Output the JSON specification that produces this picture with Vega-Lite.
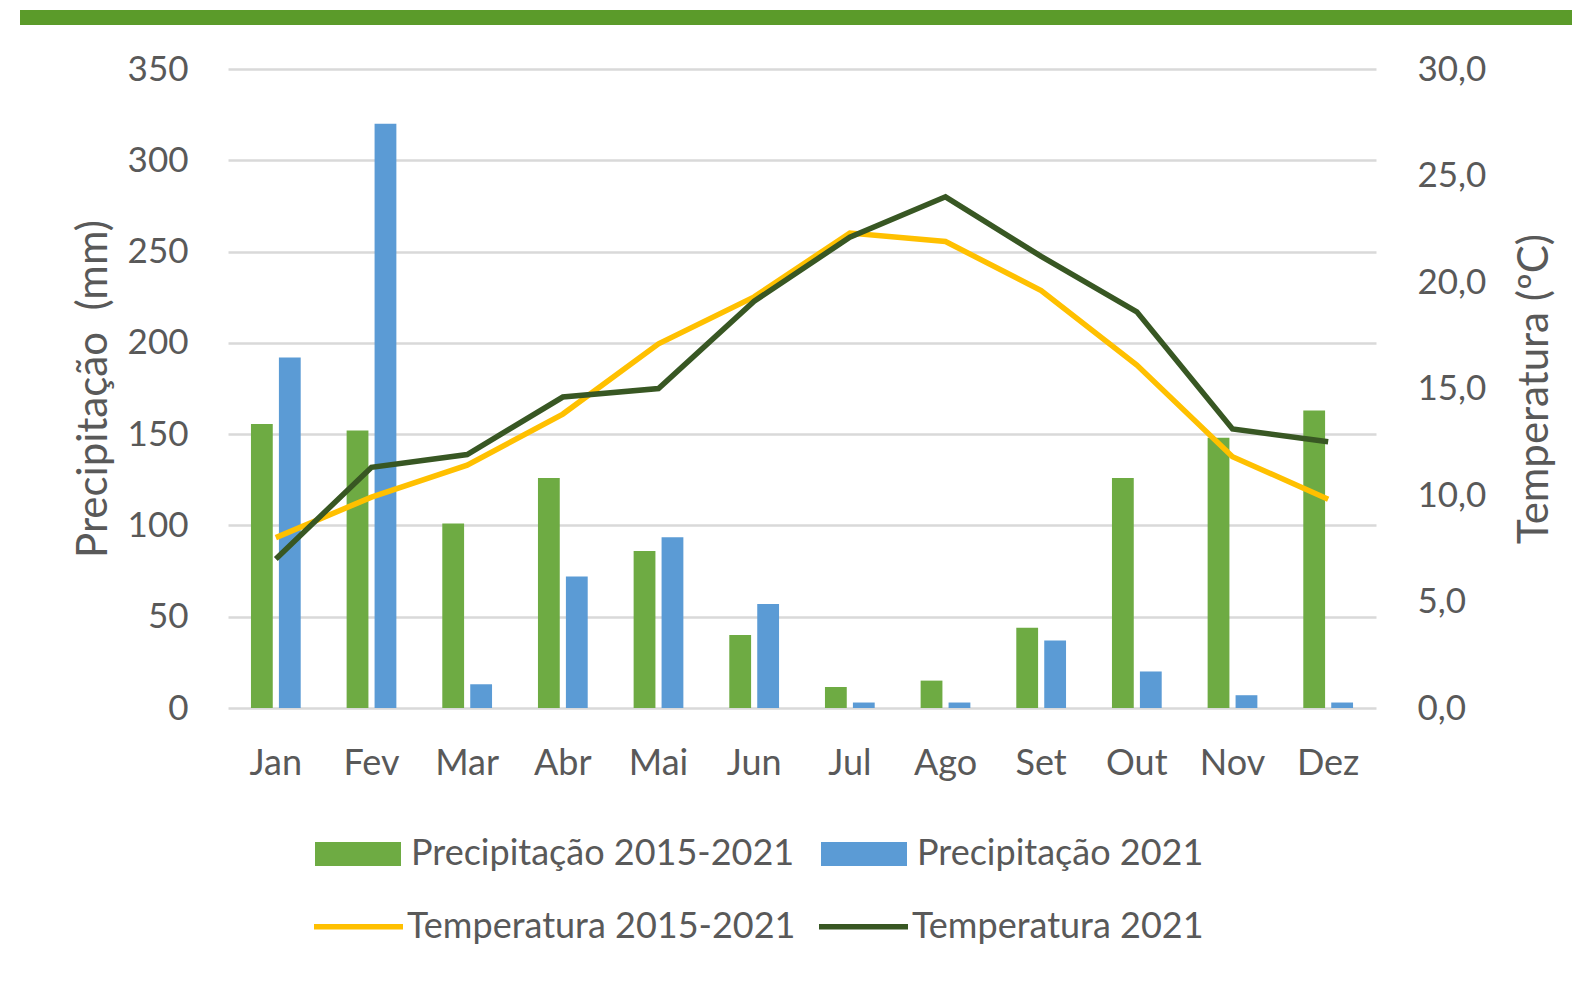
{
  "$schema": "https://vega.github.io/schema/vega-lite/v6.json",
  "padding": {"left": 20, "top": 10, "right": 0, "bottom": 0},
  "background": "white",
  "datasets": {
    "precip": [
      {"mes": "Jan", "serie": "Precipitação 2015-2021", "valor": 155.5},
      {"mes": "Fev", "serie": "Precipitação 2015-2021", "valor": 152},
      {"mes": "Mar", "serie": "Precipitação 2015-2021", "valor": 101},
      {"mes": "Abr", "serie": "Precipitação 2015-2021", "valor": 126},
      {"mes": "Mai", "serie": "Precipitação 2015-2021", "valor": 86},
      {"mes": "Jun", "serie": "Precipitação 2015-2021", "valor": 40},
      {"mes": "Jul", "serie": "Precipitação 2015-2021", "valor": 11.5},
      {"mes": "Ago", "serie": "Precipitação 2015-2021", "valor": 15},
      {"mes": "Set", "serie": "Precipitação 2015-2021", "valor": 44},
      {"mes": "Out", "serie": "Precipitação 2015-2021", "valor": 126},
      {"mes": "Nov", "serie": "Precipitação 2015-2021", "valor": 148},
      {"mes": "Dez", "serie": "Precipitação 2015-2021", "valor": 163},
      {"mes": "Jan", "serie": "Precipitação 2021", "valor": 192},
      {"mes": "Fev", "serie": "Precipitação 2021", "valor": 320},
      {"mes": "Mar", "serie": "Precipitação 2021", "valor": 13},
      {"mes": "Abr", "serie": "Precipitação 2021", "valor": 72},
      {"mes": "Mai", "serie": "Precipitação 2021", "valor": 93.5},
      {"mes": "Jun", "serie": "Precipitação 2021", "valor": 57},
      {"mes": "Jul", "serie": "Precipitação 2021", "valor": 3},
      {"mes": "Ago", "serie": "Precipitação 2021", "valor": 3},
      {"mes": "Set", "serie": "Precipitação 2021", "valor": 37},
      {"mes": "Out", "serie": "Precipitação 2021", "valor": 20},
      {"mes": "Nov", "serie": "Precipitação 2021", "valor": 7},
      {"mes": "Dez", "serie": "Precipitação 2021", "valor": 3}
    ],
    "temp": [
      {"mes": "Jan", "serie": "Temperatura 2015-2021", "temp": 8.0},
      {"mes": "Fev", "serie": "Temperatura 2015-2021", "temp": 9.9},
      {"mes": "Mar", "serie": "Temperatura 2015-2021", "temp": 11.4},
      {"mes": "Abr", "serie": "Temperatura 2015-2021", "temp": 13.8},
      {"mes": "Mai", "serie": "Temperatura 2015-2021", "temp": 17.1},
      {"mes": "Jun", "serie": "Temperatura 2015-2021", "temp": 19.3},
      {"mes": "Jul", "serie": "Temperatura 2015-2021", "temp": 22.3},
      {"mes": "Ago", "serie": "Temperatura 2015-2021", "temp": 21.9},
      {"mes": "Set", "serie": "Temperatura 2015-2021", "temp": 19.6},
      {"mes": "Out", "serie": "Temperatura 2015-2021", "temp": 16.1},
      {"mes": "Nov", "serie": "Temperatura 2015-2021", "temp": 11.8},
      {"mes": "Dez", "serie": "Temperatura 2015-2021", "temp": 9.8},
      {"mes": "Jan", "serie": "Temperatura 2021", "temp": 7.0},
      {"mes": "Fev", "serie": "Temperatura 2021", "temp": 11.3},
      {"mes": "Mar", "serie": "Temperatura 2021", "temp": 11.9},
      {"mes": "Abr", "serie": "Temperatura 2021", "temp": 14.6},
      {"mes": "Mai", "serie": "Temperatura 2021", "temp": 15.0},
      {"mes": "Jun", "serie": "Temperatura 2021", "temp": 19.1},
      {"mes": "Jul", "serie": "Temperatura 2021", "temp": 22.1},
      {"mes": "Ago", "serie": "Temperatura 2021", "temp": 24.0},
      {"mes": "Set", "serie": "Temperatura 2021", "temp": 21.2},
      {"mes": "Out", "serie": "Temperatura 2021", "temp": 18.6},
      {"mes": "Nov", "serie": "Temperatura 2021", "temp": 13.1},
      {"mes": "Dez", "serie": "Temperatura 2021", "temp": 12.5}
    ]
  },
  "config": {
    "font": "Lato",
    "view": {"stroke": null},
    "axis": {
      "labelColor": "#595959",
      "titleColor": "#595959",
      "labelFont": "Lato",
      "titleFont": "Lato",
      "titleFontWeight": "normal"
    },
    "legend": {"labelFont": "Lato", "labelColor": "#595959", "padding": 0}
  },
  "center": true,
  "spacing": 27,
  "vconcat": [
    {
      "data": {"values": [{"a": 1}]},
      "width": 1743,
      "height": 15,
      "view": {"fill": "#5b9b2a", "stroke": null},
      "mark": {"type": "rect", "fill": "#5b9b2a"},
      "encoding": {}
    },
    {
      "width": 1148,
      "height": 639,
      "layer": [
        {
          "data": {"name": "precip"},
          "mark": {"type": "bar"},
          "encoding": {
            "x": {
              "field": "mes",
              "type": "nominal",
              "sort": ["Jan", "Fev", "Mar", "Abr", "Mai", "Jun", "Jul", "Ago", "Set", "Out", "Nov", "Dez"],
              "scale": {"paddingInner": 0.48, "paddingOuter": 0.24},
              "axis": {
                "title": null,
                "labelAngle": 0,
                "labelFontSize": 36,
                "labelPadding": 38,
                "ticks": false,
                "tickSize": 0,
                "domain": false,
                "grid": false
              }
            },
            "xOffset": {
              "field": "serie",
              "type": "nominal",
              "sort": ["Precipitação 2015-2021", "Precipitação 2021"],
              "scale": {"paddingInner": 0.22}
            },
            "y": {
              "field": "valor",
              "type": "quantitative",
              "scale": {"domain": [0, 350]},
              "axis": {
                "title": "Precipitação\u00a0 (mm)",
                "values": [0, 50, 100, 150, 200, 250, 300, 350],
                "labelFontSize": 35,
                "labelPadding": 40,
                "ticks": false,
                "tickSize": 0,
                "domain": false,
                "grid": true,
                "gridColor": "#d9d9d9",
                "gridWidth": 2.5,
                "titleFontSize": 42,
                "titleAngle": 270,
                "titleX": -122,
                "titleY": 319.5,
                "titleBaseline": "alphabetic"
              }
            },
            "fill": {
              "field": "serie",
              "type": "nominal",
              "scale": {
                "domain": ["Precipitação 2015-2021", "Precipitação 2021"],
                "range": ["#6eab43", "#5b9bd5"]
              },
              "legend": {
                "title": null,
                "orient": "none",
                "legendX": 295,
                "legendY": 801,
                "direction": "horizontal",
                "symbolType": "M-1,-0.28H1V0.28H-1Z",
                "symbolSize": 7396,
                "symbolStrokeWidth": 0,
                "symbolOpacity": 1,
                "labelFontSize": 36,
                "labelOffset": 10,
                "columnPadding": 26,
                "labelLimit": 0
              }
            }
          }
        },
        {
          "data": {"name": "temp"},
          "mark": {"type": "line", "strokeWidth": 5.5},
          "encoding": {
            "x": {
              "field": "mes",
              "type": "nominal",
              "sort": ["Jan", "Fev", "Mar", "Abr", "Mai", "Jun", "Jul", "Ago", "Set", "Out", "Nov", "Dez"]
            },
            "y": {
              "field": "temp",
              "type": "quantitative",
              "scale": {"domain": [0, 30]},
              "axis": {
                "orient": "right",
                "title": "Temperatura (ºC)",
                "values": [0, 5, 10, 15, 20, 25, 30],
                "labelExpr": "replace(format(datum.value, '.1f'), '.', ',')",
                "labelFontSize": 35,
                "labelPadding": 41,
                "ticks": false,
                "tickSize": 0,
                "domain": false,
                "grid": false,
                "titleFontSize": 42,
                "titleAngle": 270,
                "titleX": 171,
                "titleY": 319.5,
                "titleBaseline": "alphabetic"
              }
            },
            "stroke": {
              "field": "serie",
              "type": "nominal",
              "scale": {
                "domain": ["Temperatura 2015-2021", "Temperatura 2021"],
                "range": ["#ffc000", "#385723"]
              },
              "legend": {
                "title": null,
                "orient": "none",
                "legendX": 291,
                "legendY": 869,
                "direction": "horizontal",
                "symbolType": "stroke",
                "symbolSize": 7921,
                "symbolStrokeWidth": 5.5,
                "labelFontSize": 36,
                "labelOffset": 1,
                "columnPadding": 12,
                "labelLimit": 0
              }
            }
          }
        }
      ],
      "resolve": {"scale": {"y": "independent"}}
    }
  ]
}
